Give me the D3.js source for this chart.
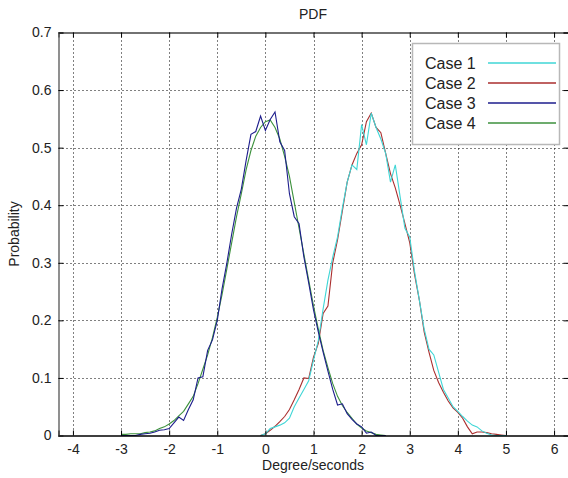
<!doctype html>
<html>
<head>
<meta charset="utf-8">
<script src="https://cdn.jsdelivr.net/npm/d3@7"></script>
<style>
  body { margin: 0; background: #fff; }
  svg text { font-family: "Liberation Sans", Arial, sans-serif; fill: #222; }
</style>
</head>
<body>
<svg id="chart" width="568" height="478"></svg>
<script>
  // x grid of the two groups of curves
  var xLeft = [-3.0, -2.9, -2.8, -2.7, -2.6, -2.5, -2.4, -2.3, -2.2, -2.1, -2.0, -1.9, -1.8, -1.7, -1.6, -1.5,
    -1.4, -1.3, -1.2, -1.1, -1.0, -0.9, -0.8, -0.7, -0.6, -0.5, -0.4, -0.3, -0.2, -0.1, 0.0, 0.1, 0.2, 0.3,
    0.4, 0.5, 0.6, 0.7, 0.8, 0.9, 1.0, 1.1, 1.2, 1.3, 1.4, 1.5, 1.6, 1.7, 1.8, 1.9, 2.0, 2.1, 2.2, 2.3, 2.4, 2.5];
  var xRight = [-0.1, 0.0, 0.1, 0.2, 0.3, 0.4, 0.5, 0.6, 0.7, 0.8, 0.9, 1.0, 1.1, 1.2, 1.3, 1.4, 1.5, 1.6,
    1.7, 1.8, 1.9, 2.0, 2.1, 2.2, 2.3, 2.4, 2.5, 2.6, 2.7, 2.8, 2.9, 3.0, 3.1, 3.2, 3.3, 3.4, 3.5, 3.6, 3.7,
    3.8, 3.9, 4.0, 4.1, 4.2, 4.3, 4.4, 4.5, 4.6, 4.7, 4.8, 4.9, 5.0];

  var case1 = [0, 0.003, 0.012, 0.015, 0.018, 0.022, 0.030, 0.050, 0.065, 0.080, 0.095, 0.131, 0.165, 0.220,
    0.270, 0.310, 0.345, 0.395, 0.440, 0.470, 0.462, 0.540, 0.505, 0.560, 0.535, 0.515, 0.490, 0.440, 0.470,
    0.415, 0.360, 0.345, 0.285, 0.235, 0.185, 0.150, 0.140, 0.110, 0.080, 0.065, 0.050, 0.042, 0.033, 0.025,
    0.018, 0.015, 0.008, 0.004, 0.001, 0, 0, 0];
  var case2 = [0, 0.003, 0.009, 0.016, 0.024, 0.033, 0.045, 0.062, 0.080, 0.100, 0.099, 0.136, 0.160, 0.212,
    0.225, 0.300, 0.340, 0.390, 0.440, 0.470, 0.490, 0.505, 0.545, 0.560, 0.535, 0.526, 0.490, 0.455, 0.430,
    0.400, 0.368, 0.335, 0.280, 0.235, 0.180, 0.145, 0.113, 0.092, 0.075, 0.060, 0.048, 0.040, 0.030, 0.015,
    0.003, 0.006, 0.006, 0.005, 0.003, 0.002, 0.001, 0];
  var case3 = [0, 0, 0, 0, 0.002, 0.003, 0.004, 0.006, 0.009, 0.010, 0.012, 0.022, 0.032, 0.026, 0.045, 0.062,
    0.100, 0.102, 0.148, 0.166, 0.200, 0.255, 0.300, 0.350, 0.395, 0.428, 0.478, 0.523, 0.528, 0.555, 0.530,
    0.549, 0.562, 0.510, 0.495, 0.420, 0.380, 0.368, 0.310, 0.265, 0.218, 0.180, 0.145, 0.112, 0.080, 0.053,
    0.055, 0.038, 0.028, 0.020, 0.015, 0.004, 0.006, 0, 0, 0];
  var case4 = [0.002, 0.002, 0.003, 0.003, 0.003, 0.005, 0.006, 0.008, 0.012, 0.015, 0.020, 0.026, 0.034, 0.042,
    0.055, 0.068, 0.090, 0.115, 0.140, 0.170, 0.205, 0.245, 0.290, 0.335, 0.380, 0.420, 0.462, 0.495, 0.520,
    0.535, 0.545, 0.548, 0.535, 0.515, 0.485, 0.450, 0.405, 0.360, 0.315, 0.270, 0.225, 0.185, 0.148, 0.118,
    0.090, 0.068, 0.052, 0.040, 0.030, 0.020, 0.013, 0.008, 0.005, 0.002, 0.001, 0];

  var legendNames = ['Case 1', 'Case 2', 'Case 3', 'Case 4'];
  var xTicks = [-4, -3, -2, -1, 0, 1, 2, 3, 4, 5, 6];
  var yTicks = [0, 0.1, 0.2, 0.3, 0.4, 0.5, 0.6, 0.7];

  var series = [
    { name: 'Case 1', xs: xRight, ys: case1, color: '#3fd6d6' },
    { name: 'Case 2', xs: xRight, ys: case2, color: '#aa2e2e' },
    { name: 'Case 3', xs: xLeft, ys: case3, color: '#1d1d8c' },
    { name: 'Case 4', xs: xLeft, ys: case4, color: '#3c913c' }
  ];

  var plotL = 58.5, plotR = 568.5, plotT = 32.5, plotB = 435.5;

  var x = d3.scaleLinear().domain([-4.3, 6.3]).range([plotL, plotR]);
  var y = d3.scaleLinear().domain([0, 0.7]).range([plotB, plotT]);

  var svg = d3.select('#chart');

  // dotted grid
  var grid = svg.append('g').attr('stroke', '#000').attr('stroke-width', 1)
    .attr('stroke-dasharray', '1,3');
  xTicks.forEach(function (t) {
    grid.append('line').attr('x1', Math.round(x(t)) + 0.5).attr('x2', Math.round(x(t)) + 0.5)
      .attr('y1', plotT).attr('y2', plotB);
  });
  yTicks.forEach(function (t) {
    if (t === 0 || t === 0.7) return;
    grid.append('line').attr('y1', Math.round(y(t)) + 0.5).attr('y2', Math.round(y(t)) + 0.5)
      .attr('x1', plotL).attr('x2', plotR);
  });

  // curves, drawn so that blue lies over green and cyan over red
  var line = d3.line().x(function (d) { return x(d[0]); }).y(function (d) { return y(d[1]); });
  [1, 0, 3, 2].forEach(function (i) {
    var s = series[i];
    svg.append('path')
      .datum(s.xs.map(function (v, k) { return [v, s.ys[k]]; }))
      .attr('fill', 'none')
      .attr('stroke', s.color)
      .attr('stroke-width', 1.1)
      .attr('d', line);
  });

  // axes box with inward ticks
  var xb = d3.axisBottom(x).tickValues(xTicks).tickSize(-5).tickPadding(9)
    .tickFormat(function (d) { return String(d); });
  var gx = svg.append('g').attr('transform', 'translate(0,' + plotB + ')').call(xb);
  var gxt = svg.append('g').attr('transform', 'translate(0,' + plotT + ')')
    .call(d3.axisTop(x).tickValues(xTicks).tickSize(-5).tickFormat(''));
  var yl = d3.axisLeft(y).tickValues(yTicks).tickSize(-5).tickPadding(7)
    .tickFormat(function (d) { return d === 0 ? '0' : d3.format('.1f')(d); });
  var gy = svg.append('g').attr('transform', 'translate(' + plotL + ',0)').call(yl);
  var gyr = svg.append('g').attr('transform', 'translate(' + plotR + ',0)')
    .call(d3.axisRight(y).tickValues(yTicks).tickSize(-5).tickFormat(''));

  [gx, gxt, gy, gyr].forEach(function (g) {
    g.selectAll('.domain').attr('stroke', '#444').attr('stroke-width', 1.3);
    g.selectAll('.tick line').attr('stroke', '#000');
    g.selectAll('text').attr('font-size', 14).attr('fill', '#222')
      .attr('font-family', '"Liberation Sans", Arial, sans-serif');
  });
  gx.selectAll('.domain').attr('stroke', '#000');
  gy.selectAll('.domain').attr('stroke', '#555');

  // legend
  var lg = svg.append('g');
  lg.append('rect').attr('x', 412.5).attr('y', 43.5).attr('width', 147).attr('height', 101)
    .attr('fill', '#fff').attr('stroke', '#b8b8b8').attr('stroke-width', 1.5);
  legendNames.forEach(function (n, i) {
    var yy = 63 + i * 20;
    lg.append('text').attr('x', 425).attr('y', yy + 6).attr('font-size', 16).text(n);
    lg.append('line').attr('x1', 488).attr('x2', 556).attr('y1', yy).attr('y2', yy)
      .attr('stroke', series[i].color).attr('stroke-width', 1.5);
  });

  // titles
  svg.append('text').attr('x', 313).attr('y', 19).attr('text-anchor', 'middle')
    .attr('font-size', 14).text('PDF');
  svg.append('text').attr('x', 313).attr('y', 470).attr('text-anchor', 'middle')
    .attr('font-size', 14).text('Degree/seconds');
  svg.append('text').attr('transform', 'translate(19,234) rotate(-90)').attr('text-anchor', 'middle')
    .attr('font-size', 14).text('Probability');
</script>
</body>
</html>
